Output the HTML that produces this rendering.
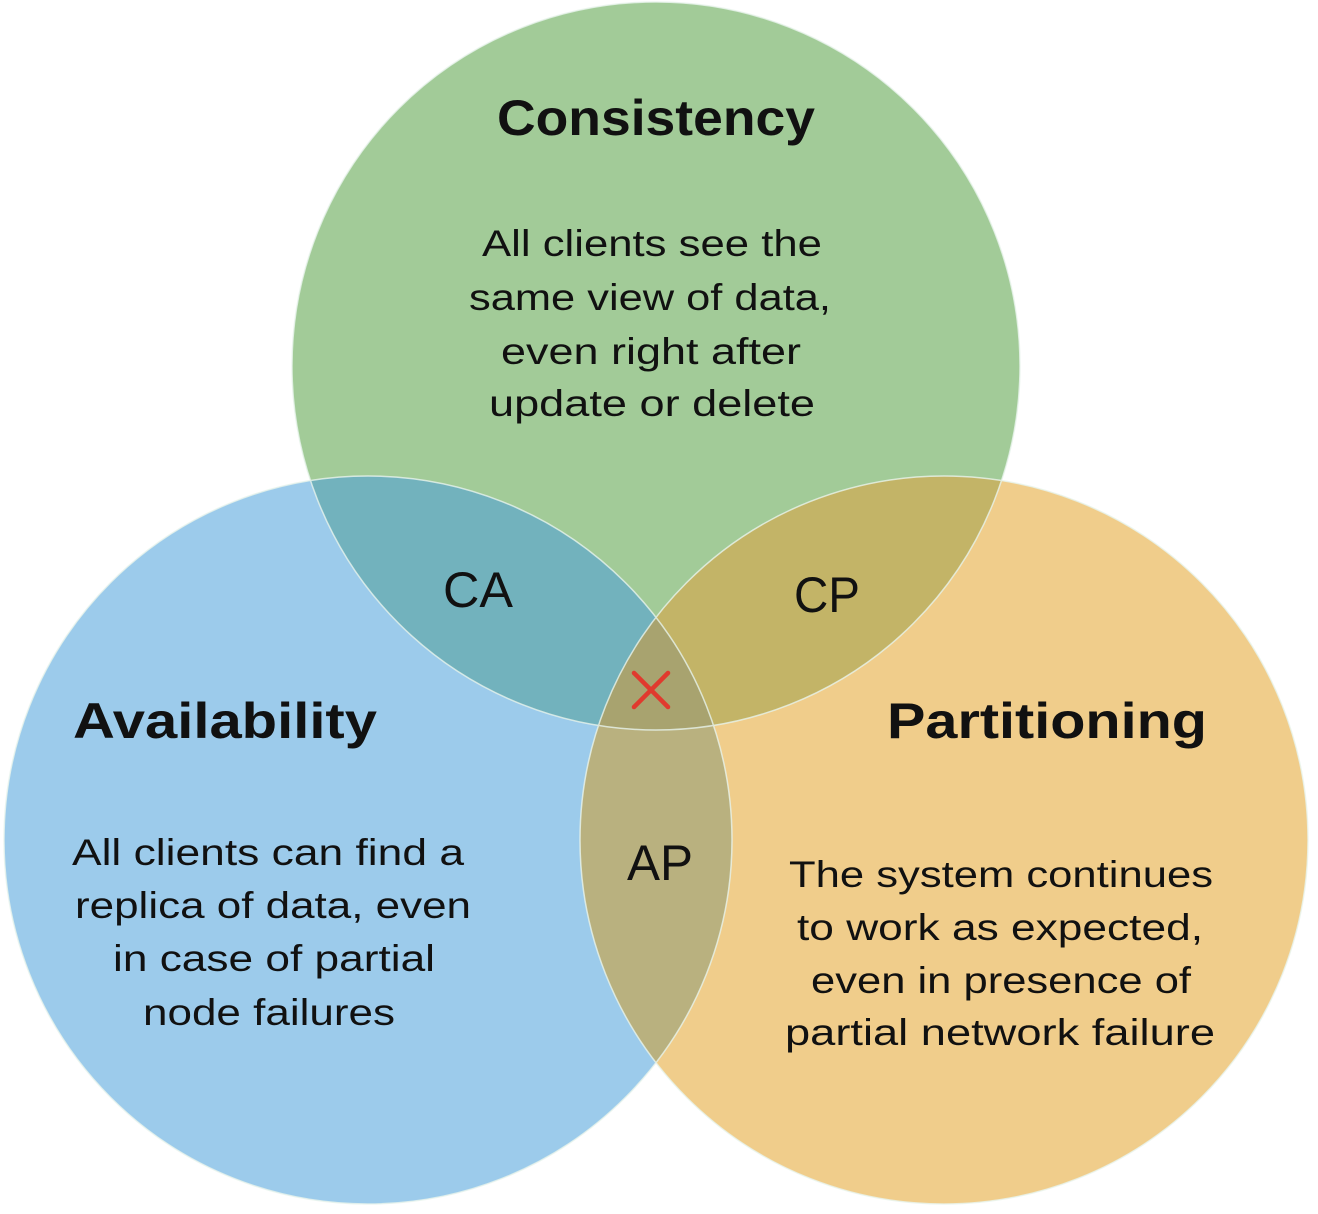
<!DOCTYPE html>
<html><head><meta charset="utf-8"><style>
html,body{margin:0;padding:0;background:#fff;}
svg{display:block}
text{font-family:"Liberation Sans",sans-serif;fill:#111;}
</style></head><body>
<svg width="1318" height="1214" viewBox="0 0 1318 1214" xmlns="http://www.w3.org/2000/svg">
<defs>
<clipPath id="cb"><circle cx="368" cy="840" r="364"/></clipPath>
<clipPath id="cg"><circle cx="656" cy="366" r="364"/></clipPath>
<clipPath id="co"><circle cx="944" cy="840" r="364"/></clipPath>
</defs>
<rect width="1318" height="1214" fill="#fff"/>
<circle cx="656" cy="366" r="364" fill="#a2cb98"/>
<circle cx="368" cy="840" r="364" fill="#9ccbeb"/>
<circle cx="944" cy="840" r="364" fill="#f0cd8b"/>
<circle cx="656" cy="366" r="364" fill="#72b2bd" clip-path="url(#cb)"/>
<circle cx="656" cy="366" r="364" fill="#c3b467" clip-path="url(#co)"/>
<circle cx="368" cy="840" r="364" fill="#b9b17f" clip-path="url(#co)"/>
<g clip-path="url(#co)"><circle cx="656" cy="366" r="364" fill="#a8a36f" clip-path="url(#cb)"/></g>
<g fill="none" stroke="#e8f4ec" stroke-width="1.5" opacity="0.8">
<circle cx="656" cy="366" r="364"/><circle cx="368" cy="840" r="364"/><circle cx="944" cy="840" r="364"/>
</g>
<text x="656" y="135" font-size="50" font-weight="bold" text-anchor="middle" textLength="318" lengthAdjust="spacingAndGlyphs">Consistency</text>
<g font-size="37" text-anchor="middle">
<text x="652" y="256" textLength="340" lengthAdjust="spacingAndGlyphs">All clients see the</text>
<text x="650" y="310" textLength="362" lengthAdjust="spacingAndGlyphs">same view of data,</text>
<text x="651" y="364" textLength="300" lengthAdjust="spacingAndGlyphs">even right after</text>
<text x="652" y="416" textLength="326" lengthAdjust="spacingAndGlyphs">update or delete</text>
<text x="268" y="865" textLength="392" lengthAdjust="spacingAndGlyphs">All clients can find a</text>
<text x="273" y="918" textLength="396" lengthAdjust="spacingAndGlyphs">replica of data, even</text>
<text x="274" y="971" textLength="322" lengthAdjust="spacingAndGlyphs">in case of partial</text>
<text x="269" y="1025" textLength="252" lengthAdjust="spacingAndGlyphs">node failures</text>
<text x="1001" y="887" textLength="424" lengthAdjust="spacingAndGlyphs">The system continues</text>
<text x="1000" y="940" textLength="406" lengthAdjust="spacingAndGlyphs">to work as expected,</text>
<text x="1001" y="993" textLength="380" lengthAdjust="spacingAndGlyphs">even in presence of</text>
<text x="1000" y="1045" textLength="430" lengthAdjust="spacingAndGlyphs">partial network failure</text>
</g>
<g font-size="50" text-anchor="middle">
<text x="478" y="607" textLength="70" lengthAdjust="spacingAndGlyphs">CA</text>
<text x="827" y="612" textLength="66" lengthAdjust="spacingAndGlyphs">CP</text>
<text x="660" y="880" textLength="66" lengthAdjust="spacingAndGlyphs">AP</text>
</g>
<text x="225" y="738" font-size="50" font-weight="bold" text-anchor="middle" textLength="304" lengthAdjust="spacingAndGlyphs">Availability</text>
<text x="1047" y="738" font-size="50" font-weight="bold" text-anchor="middle" textLength="320" lengthAdjust="spacingAndGlyphs">Partitioning</text>
<g stroke="#e03a2e" stroke-width="4.5" stroke-linecap="round">
<line x1="634" y1="673" x2="668" y2="707"/><line x1="668" y1="673" x2="634" y2="707"/>
</g>
</svg>
</body></html>
